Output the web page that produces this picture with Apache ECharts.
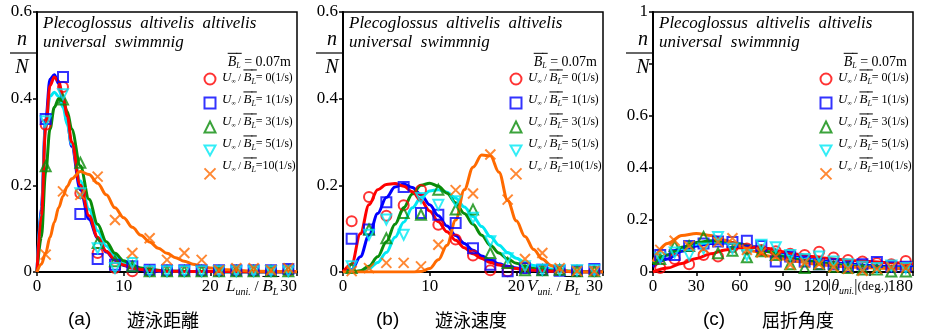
<!DOCTYPE html>
<html>
<head>
<meta charset="utf-8">
<script src="https://cdn.jsdelivr.net/npm/echarts@6/dist/echarts.min.js"></script>
<style>
  html, body { margin: 0; padding: 0; background: #fff; }
  #chart { width: 942px; height: 336px; }
</style>
</head>
<body>
<div id="chart"></div>
<script>
// ---- data ----
const speeds = ['0', '1', '3', '5', '10'];

// (a) swimming distance
const markXA = [1, 3, 5, 7, 9, 11, 13, 15, 17, 19, 21, 23, 25, 27, 29];
const markA0 = [0.34, 0.427, 0.182, 0.044, 0.009, 0.002, 0.002, 0.002, 0.002, 0.002, 0.002, 0.002, 0.002, 0.002, 0.003];
const markA1 = [0.353, 0.45, 0.134, 0.03, 0.017, 0.013, 0.005, 0.004, 0.004, 0.004, 0.004, 0.004, 0.004, 0.004, 0.007];
const markA3 = [0.244, 0.398, 0.252, 0.067, 0.025, 0.013, 0.002, 0.002, 0.002, 0.002, 0.002, 0.002, 0.002, 0.002, 0.002];
const markA5 = [0.348, 0.41, 0.182, 0.055, 0.009, 0.021, 0.002, 0.002, 0.002, 0.002, 0.002, 0.002, 0.002, 0.002, 0.002];
const markA10 = [0.04, 0.186, 0.178, 0.22, 0.12, 0.044, 0.078, 0.028, 0.044, 0.028, 0.004, 0.009, 0.009, 0.004, 0.009];
const fitXA = [0, 0.5, 1, 1.5, 2, 2.5, 3, 3.5, 4, 5, 6, 7, 8, 9, 10, 11, 12, 13, 14, 15, 16, 17, 18, 19, 20, 22, 25, 30];
const fitA0 = [0, 0.13, 0.33, 0.43, 0.45, 0.44, 0.405, 0.36, 0.3, 0.2, 0.13, 0.08, 0.048, 0.028, 0.016, 0.009, 0.006, 0.004, 0.003, 0.002, 0.002, 0.001, 0.001, 0.001, 0.001, 0.001, 0, 0];
const fitA1 = [0, 0.15, 0.35, 0.445, 0.455, 0.435, 0.395, 0.345, 0.29, 0.19, 0.122, 0.077, 0.046, 0.027, 0.015, 0.009, 0.005, 0.003, 0.002, 0.002, 0.001, 0.001, 0.001, 0.001, 0.001, 0, 0, 0];
const fitA3 = [0, 0.08, 0.23, 0.33, 0.38, 0.4, 0.395, 0.37, 0.33, 0.245, 0.168, 0.11, 0.07, 0.043, 0.026, 0.016, 0.009, 0.006, 0.004, 0.002, 0.002, 0.001, 0.001, 0.001, 0.001, 0, 0, 0];
const fitA5 = [0, 0.14, 0.34, 0.405, 0.415, 0.405, 0.38, 0.34, 0.295, 0.21, 0.145, 0.095, 0.06, 0.037, 0.022, 0.013, 0.008, 0.005, 0.003, 0.002, 0.002, 0.001, 0.001, 0.001, 0.001, 0, 0, 0];
const fitA10 = [0, 0.018, 0.044, 0.08, 0.115, 0.148, 0.175, 0.198, 0.215, 0.232, 0.225, 0.205, 0.178, 0.148, 0.125, 0.103, 0.085, 0.069, 0.055, 0.043, 0.033, 0.025, 0.018, 0.013, 0.009, 0.005, 0.002, 0.001];

// (b) swimming speed
const markXB = [1, 3, 5, 7, 9, 11, 13, 15, 17, 19, 21, 23, 25, 27, 29];
const markB0 = [0.117, 0.173, 0.13, 0.154, 0.189, 0.109, 0.075, 0.038, 0.004, 0.002, 0.009, 0.004, 0.004, 0.002, 0.002];
const markB1 = [0.077, 0.098, 0.161, 0.196, 0.136, 0.132, 0.113, 0.055, 0.017, 0.002, 0.009, 0.005, 0.003, 0.003, 0.007];
const markB3 = [0.009, 0.098, 0.078, 0.136, 0.132, 0.19, 0.144, 0.144, 0.044, 0.021, 0.004, 0.004, 0.005, 0.002, 0.002];
const markB5 = [0.013, 0.086, 0.121, 0.086, 0.171, 0.155, 0.163, 0.125, 0.071, 0.032, 0.013, 0.005, 0.004, 0.004, 0.004];
const markB10 = [0.002, 0.009, 0.021, 0.021, 0.013, 0.063, 0.189, 0.181, 0.271, 0.167, 0.03, 0.044, 0.009, 0.002, 0.002];
const fitXB = [0, 1, 2, 3, 4, 5, 6, 7, 8, 9, 10, 11, 12, 13, 14, 15, 16, 17, 18, 19, 20, 21, 22, 23, 24, 25, 26, 27, 28, 29, 30];
const fitB0 = [0, 0.018, 0.088, 0.155, 0.19, 0.202, 0.204, 0.198, 0.185, 0.165, 0.141, 0.116, 0.093, 0.073, 0.056, 0.042, 0.031, 0.022, 0.016, 0.011, 0.008, 0.005, 0.004, 0.003, 0.002, 0.001, 0.001, 0, 0, 0, 0];
const fitB1 = [0, 0.005, 0.035, 0.085, 0.135, 0.172, 0.196, 0.203, 0.195, 0.178, 0.155, 0.13, 0.106, 0.084, 0.066, 0.05, 0.037, 0.027, 0.019, 0.013, 0.009, 0.006, 0.004, 0.003, 0.002, 0.001, 0.001, 0, 0, 0, 0];
const fitB3 = [0, 0, 0.003, 0.013, 0.035, 0.07, 0.11, 0.148, 0.18, 0.2, 0.205, 0.198, 0.182, 0.16, 0.135, 0.11, 0.085, 0.062, 0.044, 0.03, 0.02, 0.013, 0.008, 0.005, 0.003, 0.002, 0.001, 0.001, 0, 0, 0];
const fitB5 = [0, 0, 0.002, 0.008, 0.022, 0.045, 0.08, 0.115, 0.148, 0.172, 0.187, 0.19, 0.184, 0.17, 0.15, 0.128, 0.105, 0.082, 0.062, 0.045, 0.032, 0.022, 0.015, 0.01, 0.007, 0.005, 0.003, 0.002, 0.001, 0.001, 0];
const fitB10 = [0, 0, 0, 0, 0, 0, 0, 0, 0, 0.001, 0.008, 0.028, 0.062, 0.12, 0.19, 0.242, 0.27, 0.268, 0.23, 0.165, 0.118, 0.082, 0.052, 0.03, 0.015, 0.006, 0.002, 0.001, 0, 0, 0];

// (c) turning angle
const markXC = [5, 15, 25, 35, 45, 55, 65, 75, 85, 95, 105, 115, 125, 135, 145, 155, 165, 175];
const markC0 = [0.015, 0.05, 0.03, 0.065, 0.06, 0.095, 0.09, 0.085, 0.08, 0.07, 0.065, 0.078, 0.056, 0.046, 0.04, 0.035, 0.03, 0.042];
const markC1 = [0.065, 0.065, 0.1, 0.11, 0.117, 0.115, 0.12, 0.1, 0.04, 0.06, 0.04, 0.03, 0.03, 0.02, 0.03, 0.038, 0.02, 0.02];
const markC3 = [0.05, 0.1, 0.1, 0.135, 0.072, 0.082, 0.057, 0.08, 0.065, 0.03, 0.015, 0.03, 0.02, 0.015, 0.01, 0.01, 0.002, 0.002];
const markC5 = [0.055, 0.075, 0.065, 0.09, 0.135, 0.09, 0.065, 0.105, 0.095, 0.065, 0.05, 0.06, 0.04, 0.03, 0.02, 0.015, 0.025, 0.015];
const markC10 = [0.085, 0.12, 0.1, 0.09, 0.115, 0.13, 0.085, 0.075, 0.06, 0.028, 0.035, 0.03, 0.018, 0.012, 0.005, 0.012, 0.018, 0.015];
const fitXC = [0, 10, 20, 30, 40, 50, 60, 70, 80, 90, 100, 110, 120, 130, 140, 150, 160, 170, 180];
const fitC0 = [0, 0.015, 0.033, 0.052, 0.07, 0.085, 0.093, 0.095, 0.09, 0.078, 0.068, 0.06, 0.053, 0.048, 0.043, 0.04, 0.037, 0.035, 0.033];
const fitC1 = [0.02, 0.05, 0.08, 0.1, 0.11, 0.112, 0.108, 0.098, 0.085, 0.068, 0.056, 0.047, 0.04, 0.034, 0.029, 0.025, 0.022, 0.02, 0.018];
const fitC3 = [0.03, 0.065, 0.095, 0.113, 0.12, 0.118, 0.108, 0.094, 0.078, 0.06, 0.048, 0.04, 0.033, 0.027, 0.022, 0.019, 0.016, 0.014, 0.012];
const fitC5 = [0.035, 0.065, 0.09, 0.107, 0.115, 0.115, 0.108, 0.096, 0.082, 0.063, 0.052, 0.044, 0.036, 0.029, 0.024, 0.02, 0.017, 0.015, 0.013];
const fitC10 = [0.04, 0.11, 0.14, 0.148, 0.14, 0.122, 0.1, 0.08, 0.062, 0.05, 0.04, 0.032, 0.026, 0.021, 0.018, 0.016, 0.014, 0.013, 0.012];

const captions = ['遊泳距離', '遊泳速度', '屈折角度'];
const captionTags = ['(a)', '(b)', '(c)'];

// ---- styling ----
const colors = ['#ff0000', '#0000ff', '#0a8c0a', '#00e8f4', '#ff6a00'];
const symbols = ['circle', 'rect', 'triangle', 'path://M0,0L10,0L5,9Z', 'path://M0,0L10,10M10,0L0,10'];
const lineOrder = [1, 3, 2, 0, 4];
const SERIF = '"Liberation Serif", "DejaVu Serif", serif';

const panels = [
  { left: 37, xMax: 30, xInt: 10, yMax: 0.6, markX: markXA, marks: [markA0, markA1, markA3, markA5, markA10], fitX: fitXA, fits: [fitA0, fitA1, fitA3, fitA5, fitA10] },
  { left: 343, xMax: 30, xInt: 10, yMax: 0.6, markX: markXB, marks: [markB0, markB1, markB3, markB5, markB10], fitX: fitXB, fits: [fitB0, fitB1, fitB3, fitB5, fitB10] },
  { left: 653, xMax: 180, xInt: 30, yMax: 1, markX: markXC, marks: [markC0, markC1, markC3, markC5, markC10], fitX: fitXC, fits: [fitC0, fitC1, fitC3, fitC5, fitC10] }
];
const TOP = 12, SIZE = 260;

const meas = document.createElement('canvas').getContext('2d');
function textWidth(s, font) { meas.font = font; return meas.measureText(s).width; }

// a row of text pieces: [text, size, italic, sub, overline]
function textRun(x, y, parts, mainSize, alignRight) {
  const fonts = parts.map(p => (p[2] ? 'italic ' : '') + p[1] + 'px ' + SERIF);
  const widths = parts.map((p, i) => textWidth(p[0], fonts[i]));
  let cx = alignRight ? x - widths.reduce((a, b) => a + b, 0) : x;
  const out = [];
  parts.forEach((p, i) => {
    out.push({
      type: 'text', x: cx, y: p[3] ? y + mainSize * 0.3 : y, silent: true,
      style: { text: p[0], font: fonts[i], fill: '#000', verticalAlign: 'middle' }
    });
    if (p[4]) {
      const oy = y - mainSize * 0.62;
      out.push({ type: 'line', silent: true, shape: { x1: cx, y1: oy, x2: cx + widths[i] + 1, y2: oy }, style: { stroke: '#000', lineWidth: 1 } });
    }
    cx += widths[i];
  });
  return out;
}

const grids = [], xAxes = [], yAxes = [], series = [], legends = [], graphics = [];

panels.forEach((p, i) => {
  grids.push({ left: p.left, top: TOP, width: SIZE, height: SIZE, show: true, borderColor: '#000', borderWidth: 1.5, backgroundColor: 'transparent' });
  xAxes.push({
    gridIndex: i, type: 'value', min: 0, max: p.xMax, interval: p.xInt,
    axisLine: { lineStyle: { color: '#000', width: 2 } },
    axisTick: { show: true, length: 4, lineStyle: { color: '#000', width: 1.5 } },
    axisLabel: {
      color: '#000', fontFamily: SERIF, fontSize: 17, margin: 6, alignMaxLabel: 'right',
      formatter: v => (i === 2 && v === 150) ? '' : (i === 2 && v === 120) ? '{s|120}' : String(v),
      rich: { s: { fontFamily: SERIF, fontSize: 17, color: '#000', padding: [0, 20, 0, 0] } }
    },
    splitLine: { show: false }
  });
  yAxes.push({
    gridIndex: i, type: 'value', min: 0, max: p.yMax, interval: 0.2,
    axisLine: { lineStyle: { color: '#000', width: 2 } },
    axisTick: { show: true, length: 4, lineStyle: { color: '#000', width: 1.5 } },
    axisLabel: {
      color: '#000', fontFamily: SERIF, fontSize: 17, margin: 5,
      formatter: v => {
        if (v === 0) return '0';
        if (Math.abs(v - 1) < 1e-9) return '1';
        if (i === 2 && Math.abs(v - 0.8) < 1e-9) return '';
        return v.toFixed(1);
      }
    },
    splitLine: { show: false }
  });

  lineOrder.forEach(k => {
    series.push({
      name: 'fit-' + i + '-' + k, type: 'line', xAxisIndex: i, yAxisIndex: i,
      data: p.fitX.map((x, j) => [x, p.fits[k][j]]),
      smooth: 0.35, smoothMonotone: 'x', showSymbol: false, symbol: 'none', z: 2,
      lineStyle: { color: colors[k], width: 3 }, silent: true
    });
  });
  const names = [];
  for (let k = 0; k < 5; k++) {
    const name = 'pts-' + i + '-' + k;
    names.push(name);
    series.push({
      name, type: 'scatter', xAxisIndex: i, yAxisIndex: i,
      data: p.markX.map((x, j) => [x, p.marks[k][j]]),
      symbol: symbols[k], symbolSize: 10, z: 3,
      itemStyle: { color: 'rgba(0,0,0,0)', borderColor: colors[k], borderWidth: 2 },
      silent: true
    });
  }
  legends.push({
    data: names, orient: 'vertical', left: p.left + 166.5, top: 72.5, padding: 0,
    itemWidth: 11, itemHeight: 11, itemGap: 11, selectedMode: false,
    formatter: () => ' ', textStyle: { fontSize: 10 }
  });

  // panel texts
  const L = p.left;
  graphics.push({
    type: 'text', x: L + 6, y: 14, silent: true,
    style: { text: 'Plecoglossus  altivelis  altivelis\nuniversal  swimmnig', font: 'italic 17px ' + SERIF, fill: '#000', lineHeight: 19, verticalAlign: 'top' }
  });
  const nx = [L - 15, L - 11, L - 10][i];
  graphics.push({ type: 'text', x: nx, y: 40, silent: true, style: { text: 'n', font: 'italic 20px ' + SERIF, fill: '#000', align: 'center', verticalAlign: 'middle' } });
  graphics.push({ type: 'text', x: nx, y: 68, silent: true, style: { text: 'N', font: 'italic 20px ' + SERIF, fill: '#000', align: 'center', verticalAlign: 'middle' } });
  graphics.push({ type: 'line', silent: true, shape: { x1: L - 27, y1: 53, x2: L - 1, y2: 53 }, style: { stroke: '#000', lineWidth: 1.2 } });

  graphics.push(...textRun(L + 254, 62, [['B', 14, true, false, true], ['L', 8, true, true, true], [' = 0.07m', 14, false]], 14, true));
  speeds.forEach((s, k) => {
    graphics.push(...textRun(L + 185, 78 + 22 * k, [
      ['U', 13, true], ['\u221e', 6, false, true], [' / ', 10, false],
      ['B', 13, true, false, true], ['L', 8, true, true, true],
      [s.length > 1 ? '=' + s : '= ' + s, 12, false], ['(1/s)', 11.5, false]
    ], 13, false));
  });

  if (i < 2) {
    graphics.push(...textRun(L + (i === 0 ? 189 : 184), 287, [
      [i === 0 ? 'L' : 'V', 17, true], ['uni.', 10, true, true], [' / ', 15, false],
      ['B', 17, true, false, true], ['L', 10, true, true, true]
    ], 17, false));
  } else {
    graphics.push(...textRun(L + 175, 287, [
      ['|', 16, false], ['\u03b8', 16, true], ['uni.', 10, true, true], ['|', 16, false], ['(deg.)', 13, false]
    ], 16, false));
  }

  const capX = [68, 376, 703][i];
  graphics.push({ type: 'text', x: capX, y: 320, silent: true, style: { text: captionTags[i], font: '19px "Liberation Sans", sans-serif', fill: '#000', verticalAlign: 'middle' } });
  graphics.push({ type: 'text', x: capX + 59, y: 320, silent: true, style: { text: captions[i], font: '18px "Noto Sans CJK JP", sans-serif', fill: '#000', verticalAlign: 'middle' } });
});

const chart = echarts.init(document.getElementById('chart'), null, { renderer: 'canvas' });
chart.setOption({
  animation: false,
  backgroundColor: '#fff',
  grid: grids, xAxis: xAxes, yAxis: yAxes,
  legend: legends,
  series: series,
  graphic: { elements: graphics }
});
</script>
</body>
</html>
